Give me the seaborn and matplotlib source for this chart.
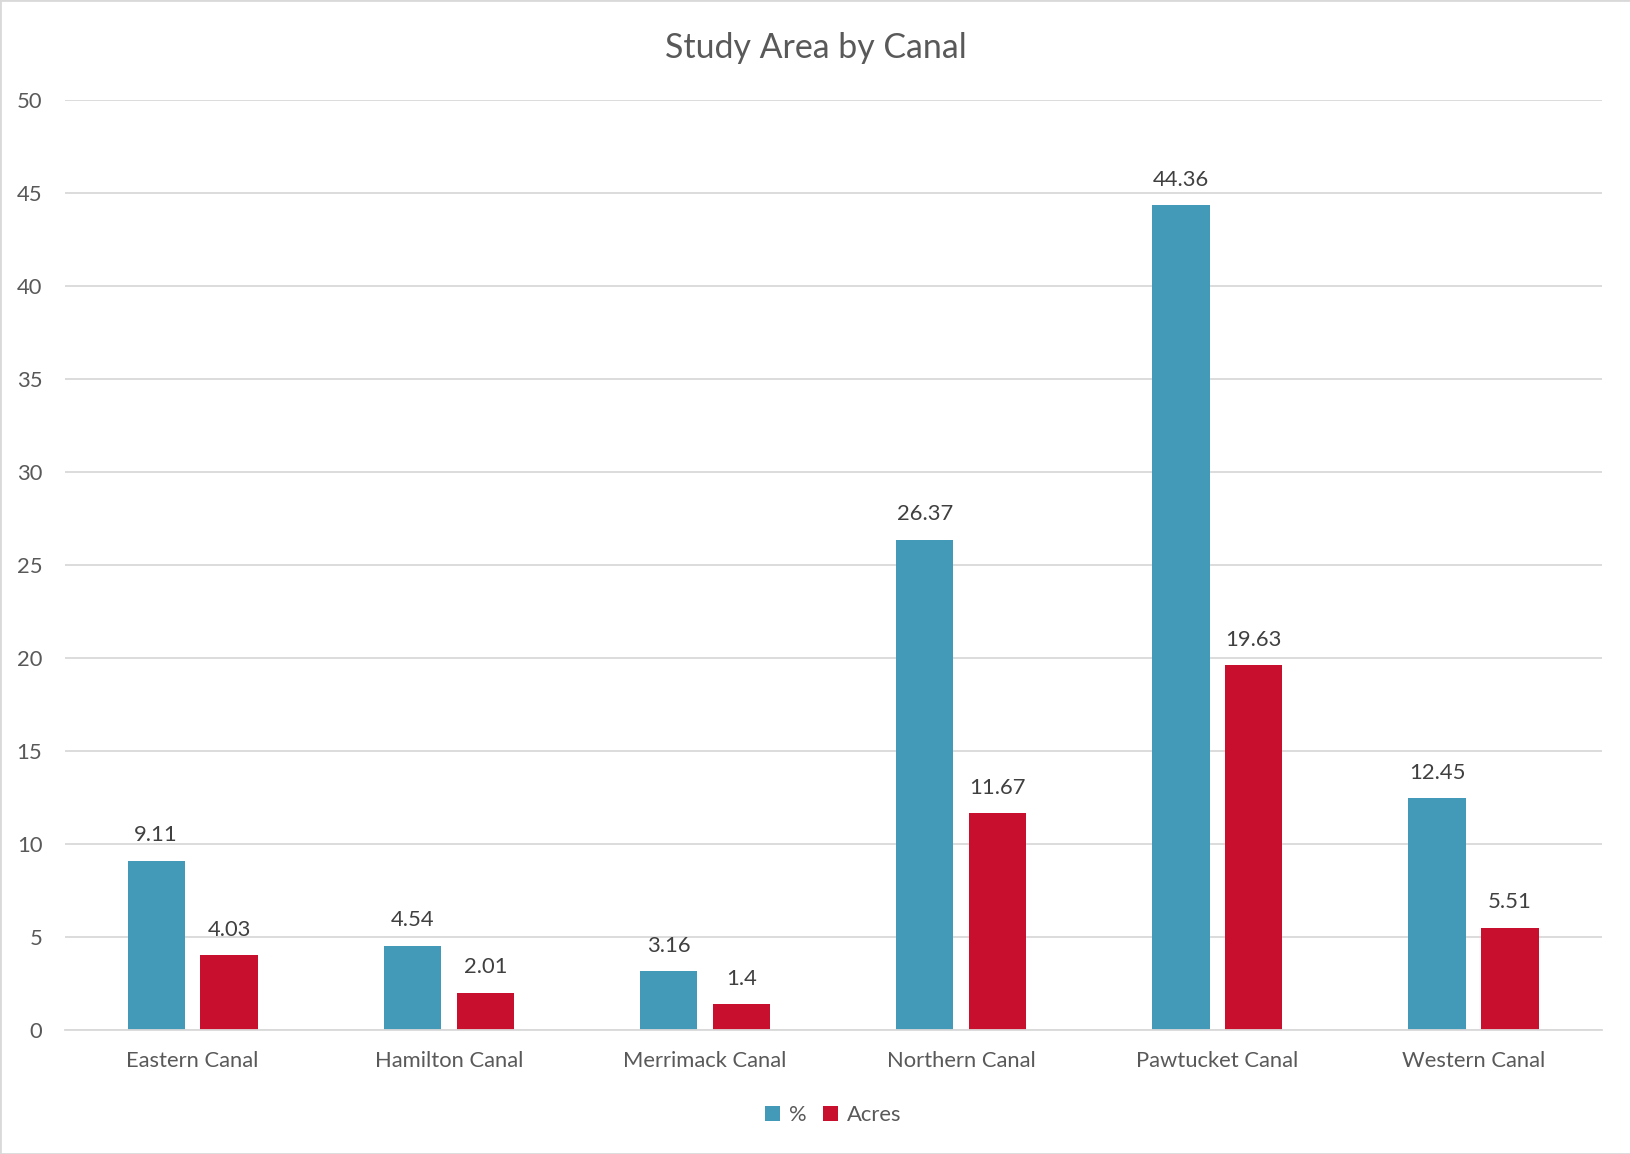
import matplotlib
matplotlib.use("Agg")
import matplotlib.pyplot as plt
import seaborn as sns
import pandas as pd
from matplotlib.patches import Rectangle

# data
canals = ["Eastern Canal", "Hamilton Canal", "Merrimack Canal",
          "Northern Canal", "Pawtucket Canal", "Western Canal"]
pct = [9.11, 4.54, 3.16, 26.37, 44.36, 12.45]
acres = [4.03, 2.01, 1.4, 11.67, 19.63, 5.51]
series = ["%", "Acres"]
colors = ["#4399B8", "#C8102E"]

df = pd.DataFrame({
    "canal": canals * 2,
    "value": pct + acres,
    "series": [series[0]] * len(canals) + [series[1]] * len(canals),
})

sns.set_style("white")
plt.rcParams["font.family"] = ["Lato", "DejaVu Sans"]

fig = plt.figure(figsize=(16.31, 11.54), dpi=100)
ax = fig.add_axes([0.0396, 0.1075, 0.9424, 0.8055])

sns.barplot(data=df, x="canal", y="value", hue="series", palette=colors,
            width=0.569, gap=0.214, ax=ax, saturation=1, legend=True,
            linewidth=0)

for cont in ax.containers:
    labels = [f"{v:g}" for v in cont.datavalues]
    ax.bar_label(cont, labels=labels, padding=11, fontsize=15.8, color="#404040")

ax.set_ylim(0, 50)
ax.set_yticks(range(0, 51, 5))
ax.set_xlim(-0.5, len(canals) - 0.5)
ax.grid(axis="y", color="#D9D9D9", linewidth=1.3)
ax.set_axisbelow(True)
for s in ["left", "right", "top"]:
    ax.spines[s].set_visible(False)
ax.spines["bottom"].set_color("#D9D9D9")
ax.spines["bottom"].set_linewidth(1.3)
ax.tick_params(axis="both", length=0, labelsize=15.8, colors="#595959")
ax.tick_params(axis="x", pad=15)
ax.tick_params(axis="y", pad=16)
ax.set_xlabel("")
ax.set_ylabel("")

fig.suptitle("Study Area by Canal", y=0.972, fontsize=24.4, color="#595959")

leg = ax.legend(loc="center", bbox_to_anchor=(0.5, -0.092), ncol=2,
                frameon=False, fontsize=15.8, handlelength=0.7,
                handleheight=0.7, handletextpad=0.4, columnspacing=0.75)
for t in leg.get_texts():
    t.set_color("#595959")

fig.patches.append(Rectangle((0, 0), 1, 1, transform=fig.transFigure,
                             fill=False, edgecolor="#D9D9D9", linewidth=2))

fig.savefig("out.png", dpi=100)
